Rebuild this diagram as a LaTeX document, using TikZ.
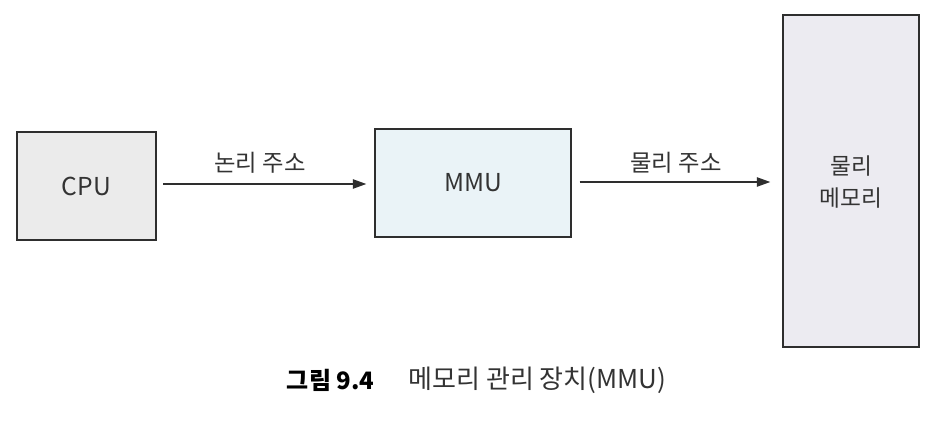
\documentclass[tikz,border=0pt]{standalone}
\usepackage{fontspec}
\setmainfont{Noto Sans CJK KR}
\usetikzlibrary{arrows.meta}
\definecolor{cpufill}{HTML}{EBEBEB}
\definecolor{mmufill}{HTML}{EAF3F7}
\definecolor{memfill}{HTML}{ECEBF1}
\definecolor{edge}{HTML}{2E2E2E}
\definecolor{txt}{HTML}{333333}
\tikzset{
  box/.style={draw=edge, line width=1.1pt, inner sep=0pt, font=\fontsize{18.5}{21}\selectfont, text=txt, align=center},
  conn/.style={draw=edge, line width=0.9pt, -{Triangle[length=10pt,width=7pt]}},
  lbl/.style={font=\fontsize{17.5}{19}\selectfont, text=txt}
}
\begin{document}
\begin{tikzpicture}[x=0.75pt,y=-0.75pt]
\useasboundingbox (0,0) rectangle (938,432);
\fill[white] (0,0) rectangle (938,432);
\node[box, fill=cpufill, minimum width=139*0.75pt, minimum height=108*0.75pt] (cpu) at (86.5,186) {CPU};
\node[box, fill=mmufill, minimum width=196*0.75pt, minimum height=108*0.75pt] (mmu) at (473,183) {MMU};
\node[box, fill=memfill, minimum width=136*0.75pt, minimum height=332*0.75pt] (mem) at (851,181) {};
\node[box, draw=none, font=\fontsize{17}{24}\selectfont] (memt) at (851,182) {물리\\메모리};
\draw[conn] ([xshift=5pt]cpu.east |- 0,184) coordinate (a1) -- ([xshift=-6pt]mmu.west |- 0,184);
\node[lbl] (l1) at (260,163) {논리 주소};
\node[lbl] (l2) at (676,163) {물리 주소};
\draw[conn] ([xshift=6pt]mmu.east |- 0,182) -- ([xshift=-9pt]mem.west |- 0,182);
\node[font=\fontsize{18}{19}\selectfont\bfseries, text=black, anchor=east] (cap1) at (379,380) {그림 9.4};
\node[font=\fontsize{19.5}{21}\selectfont, text=txt, anchor=west] (cap2) at (404,380) {메모리 관리 장치(MMU)};
\end{tikzpicture}
\end{document}
